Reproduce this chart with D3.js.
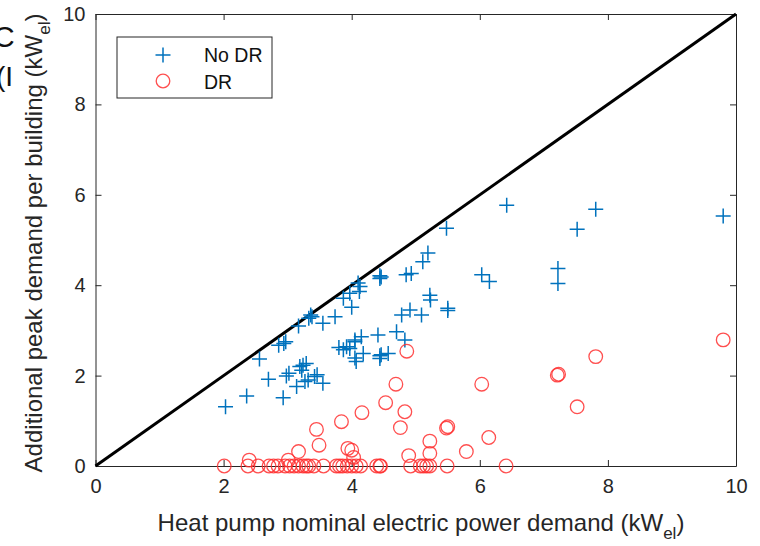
<!DOCTYPE html>
<html>
<head>
<meta charset="utf-8">
<script src="https://cdn.jsdelivr.net/npm/d3@7"></script>
<style>
  html, body { margin: 0; padding: 0; background: #fff; }
  svg { display: block; font-family: "Liberation Sans", Arial, sans-serif; }
</style>
</head>
<body>
<svg id="chart" width="760" height="546"></svg>
<script>
// Heat pump nominal power (x) vs additional peak demand per building (y)
const noDrX = [2.03, 2.36, 2.93, 2.56, 2.70, 2.98, 3.02, 2.86, 2.94, 2.97, 3.14, 3.19, 3.22, 3.24, 3.29, 3.32,
  3.27, 3.42, 3.46, 3.55, 3.17, 3.33, 3.38, 3.36, 3.55, 3.74, 3.87, 3.97, 4.00, 4.13, 4.12, 4.10, 4.44, 4.46,
  4.44, 4.85, 4.93, 5.11, 5.19, 5.48, 6.42, 7.81, 7.52, 9.80, 7.22, 7.22, 6.03, 6.15, 5.50, 5.50, 5.22, 5.23,
  5.09, 4.91, 4.78, 4.70, 4.83, 4.41, 4.15, 4.05, 3.97, 3.87, 3.92, 4.05, 4.18, 4.07, 4.05, 4.46, 4.44, 4.57,
  4.44, 3.80];
const noDrY = [1.31, 1.55, 1.51, 2.37, 1.92, 1.99, 2.05, 2.67, 2.71, 2.75, 1.76, 2.20, 2.12, 2.23, 2.27, 1.90,
  1.87, 1.98, 2.02, 1.83, 3.10, 3.27, 3.30, 3.34, 3.16, 3.30, 3.71, 3.82, 3.51, 3.97, 3.86, 4.05, 4.15, 4.18,
  4.21, 4.23, 4.26, 4.52, 4.71, 5.26, 5.77, 5.68, 5.24, 5.53, 4.37, 4.04, 4.23, 4.08, 3.44, 3.49, 3.78, 3.67,
  3.34, 3.45, 3.34, 2.97, 2.79, 2.90, 2.86, 2.75, 2.60, 2.57, 2.64, 2.79, 2.49, 2.31, 2.39, 2.46, 2.44, 2.49,
  2.38, 2.62];

const drX = [9.80, 7.81, 7.21, 7.23, 6.03, 7.52, 5.50, 5.48, 4.86, 4.69, 4.53, 4.83, 4.76, 6.14, 5.22, 5.79,
  4.89, 5.22, 4.16, 3.84, 3.45, 3.49, 3.17, 3.94, 4.00, 4.03, 3.01, 2.40,
  2.01, 2.38, 2.54, 2.71, 2.78, 2.85, 2.96, 3.03, 3.10, 3.17, 3.24, 3.29, 3.33, 3.41, 3.56, 3.76, 3.81, 3.86,
  3.93, 4.00, 4.07, 4.14, 4.39, 4.44, 4.45, 4.92, 5.07, 5.12, 5.17, 5.22, 5.49, 6.41];
const drY = [2.79, 2.42, 2.01, 2.03, 1.81, 1.31, 0.87, 0.84, 2.54, 1.81, 1.40, 1.20, 0.85, 0.63, 0.55, 0.32,
  0.23, 0.28, 1.18, 0.98, 0.81, 0.46, 0.32, 0.39, 0.35, 0.19, 0.13, 0.13,
  0, 0, 0, 0, 0, 0, 0, 0, 0, 0, 0, 0, 0, 0, 0, 0, 0, 0,
  0, 0, 0, 0, 0, 0, 0, 0, 0, 0, 0, 0, 0, 0];

const xTicks = [0, 2, 4, 6, 8, 10];
const yTicks = [0, 2, 4, 6, 8, 10];
const seriesNames = ["No DR", "DR"];

const blue = "#0072BD";
const red = "#FF3030";
const axisColor = "#262626";

const svg = d3.select("#chart");
const x = d3.scaleLinear().domain([0, 10]).range([95.5, 736]);
const y = d3.scaleLinear().domain([0, 10]).range([466, 14]);

// clipped text fragments at the left edge
svg.append("text").attr("x", -7).attr("y", 47).attr("font-size", 30).attr("fill", "#111").text("C");
svg.append("text").attr("x", -4).attr("y", 86).attr("font-size", 28).attr("fill", "#111").text("(I");

// axes with inward ticks on all four sides
const axB = svg.append("g").attr("transform", `translate(0,${y(0)})`)
  .call(d3.axisBottom(x).tickValues(xTicks).tickSizeInner(-6).tickSizeOuter(0).tickPadding(12).tickFormat(d3.format("d")));
const axT = svg.append("g").attr("transform", `translate(0,${y(10)})`)
  .call(d3.axisTop(x).tickValues(xTicks).tickSizeInner(-6).tickSizeOuter(0).tickFormat(""));
const axL = svg.append("g").attr("transform", `translate(${x(0)},0)`)
  .call(d3.axisLeft(y).tickValues(yTicks).tickSizeInner(-6).tickSizeOuter(0).tickPadding(10).tickFormat(d3.format("d")));
const axR = svg.append("g").attr("transform", `translate(${x(10)},0)`)
  .call(d3.axisRight(y).tickValues(yTicks).tickSizeInner(-6).tickSizeOuter(0).tickFormat(""));
[axB, axT, axL, axR].forEach(g => {
  g.select(".domain").attr("stroke", axisColor).attr("stroke-width", 1);
  g.selectAll(".tick line").attr("stroke", axisColor).attr("stroke-width", 1);
  g.selectAll(".tick text").attr("font-size", 20).attr("fill", axisColor)
    .attr("font-family", "'Liberation Sans', Arial, sans-serif");
});
axB.selectAll(".tick text").attr("dy", "0.75em");

// 1:1 reference line
svg.append("line")
  .attr("x1", x(0)).attr("y1", y(0)).attr("x2", x(10)).attr("y2", y(10))
  .attr("stroke", "#000").attr("stroke-width", 3);

// No DR markers
const plusPath = (cx, cy, r) => `M${cx - r},${cy}H${cx + r}M${cx},${cy - r}V${cy + r}`;
svg.append("g").selectAll("path").data(noDrX.map((v, i) => [v, noDrY[i]])).join("path")
  .attr("d", d => plusPath(x(d[0]), y(d[1]), 7.5))
  .attr("stroke", blue).attr("stroke-width", 1.5).attr("fill", "none");

// DR markers
svg.append("g").selectAll("circle").data(drX.map((v, i) => [v, drY[i]])).join("circle")
  .attr("cx", d => x(d[0])).attr("cy", d => y(d[1])).attr("r", 6.8)
  .attr("stroke", red).attr("stroke-opacity", 0.85).attr("stroke-width", 1.3).attr("fill", "none");

// axis titles
const xt = svg.append("text").attr("x", 421).attr("y", 531)
  .attr("text-anchor", "middle").attr("font-size", 24).attr("fill", axisColor);
xt.append("tspan").text("Heat pump nominal electric power demand (kW");
xt.append("tspan").attr("font-size", 17).attr("dy", 8).text("el");
xt.append("tspan").attr("dy", -8).text(")");

const yt = svg.append("text").attr("transform", `translate(42,243) rotate(-90)`)
  .attr("text-anchor", "middle").attr("font-size", 24).attr("fill", axisColor);
yt.append("tspan").text("Additional peak demand per building (kW");
yt.append("tspan").attr("font-size", 17).attr("dy", 8).text("el");
yt.append("tspan").attr("dy", -8).text(")");

// legend
const lg = svg.append("g");
lg.append("rect").attr("x", 117).attr("y", 37).attr("width", 155).attr("height", 61)
  .attr("fill", "#fff").attr("stroke", axisColor).attr("stroke-width", 1);
lg.append("path").attr("d", plusPath(163, 55, 7.5)).attr("stroke", blue).attr("stroke-width", 1.5);
lg.append("circle").attr("cx", 163).attr("cy", 81).attr("r", 6.8)
  .attr("stroke", red).attr("stroke-opacity", 0.85).attr("stroke-width", 1.3).attr("fill", "none");
lg.selectAll("text.lab").data(seriesNames).join("text").attr("class", "lab")
  .attr("x", 204).attr("y", (d, i) => 62 + i * 27).attr("font-size", 19.5).attr("fill", "#111").text(d => d);
</script>
</body>
</html>
